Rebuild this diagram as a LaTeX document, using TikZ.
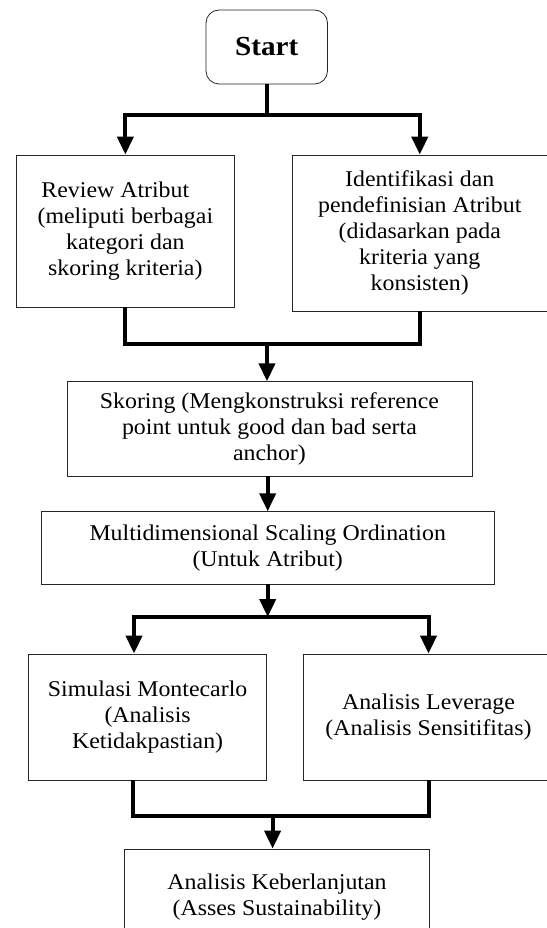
\documentclass[tikz,border=0pt]{standalone}
\usepackage{fontspec}
\setmainfont[FakeStretch=1.06]{Liberation Serif}
\usetikzlibrary{arrows.meta}
\tikzset{
  box/.style={draw=black!85, line width=0.8pt, inner sep=0pt, align=center,
    font=\fontsize{22.5}{26}\selectfont},
  startbox/.style={box, rounded corners=13pt, font=\fontsize{27.5}{30}\selectfont\bfseries},
  conn/.style={line width=4pt},
  arr/.style={line width=4pt, -{Triangle[length=18pt,width=16pt]}},
}
\begin{document}
\begin{tikzpicture}[x=1pt,y=-1pt]
\useasboundingbox (0,0) rectangle (546,928);
\node[startbox, minimum width=121.5pt, minimum height=74pt] (start) at (266.75,47) {Start};
\node[box, minimum width=217.3pt, minimum height=152pt] (review) at (125.35,231)
  {Review Atribut\hspace*{20pt}\\(meliputi berbagai\\kategori dan\\skoring kriteria)};
\node[box, minimum width=254.5pt, minimum height=156pt] (ident) at (419.75,233)
  {Identifikasi dan\\pendefinisian Atribut\\(didasarkan pada\\kriteria yang\\konsisten)};
\node[box, minimum width=405.1pt, minimum height=94.3pt] (skoring) at (269.45,428.85)
  {Skoring (Mengkonstruksi reference\\point untuk good dan bad serta\\anchor)};
\node[box, minimum width=453.4pt, minimum height=72.3pt] (mds) at (267.7,547.85)
  {Multidimensional Scaling Ordination\\(Untuk Atribut)};
\node[box, minimum width=238.2pt, minimum height=126pt] (monte) at (147.6,717)
  {Simulasi Montecarlo\\(Analisis\\Ketidakpastian)};
\node[box, minimum width=251pt, minimum height=126pt] (lever) at (428.5,717)
  {Analisis Leverage\\(Analisis Sensitifitas)};
\node[box, minimum width=304.6pt, minimum height=96pt] (final) at (277,897)
  {Analisis Keberlanjutan\\(Asses Sustainability)};

\coordinate (s1) at (266.75,115);
\coordinate (j1) at (267,344);
\coordinate (s2) at (267.7,617);
\coordinate (j2) at (272.6,816);

\draw[conn] (start.south) -- (s1);
\draw[arr] (s1) -| (review.north);
\draw[arr] (s1) -| (ident.north);
\draw[conn] (review.south) |- (j1) -| (ident.south);
\draw[arr] (j1) -- (j1 |- skoring.north);
\draw[arr] (skoring.south -| mds.north) -- (mds.north);
\draw[arr] (mds.south) -- (s2);
\draw[arr] (s2) -| ([xshift=-13.6pt]monte.north);
\draw[arr] (s2) -| (lever.north);
\draw[conn] ([xshift=-14.6pt]monte.south) |- (j2) -| (lever.south);
\draw[arr] (j2) -- (j2 |- final.north);
\end{tikzpicture}
\end{document}
